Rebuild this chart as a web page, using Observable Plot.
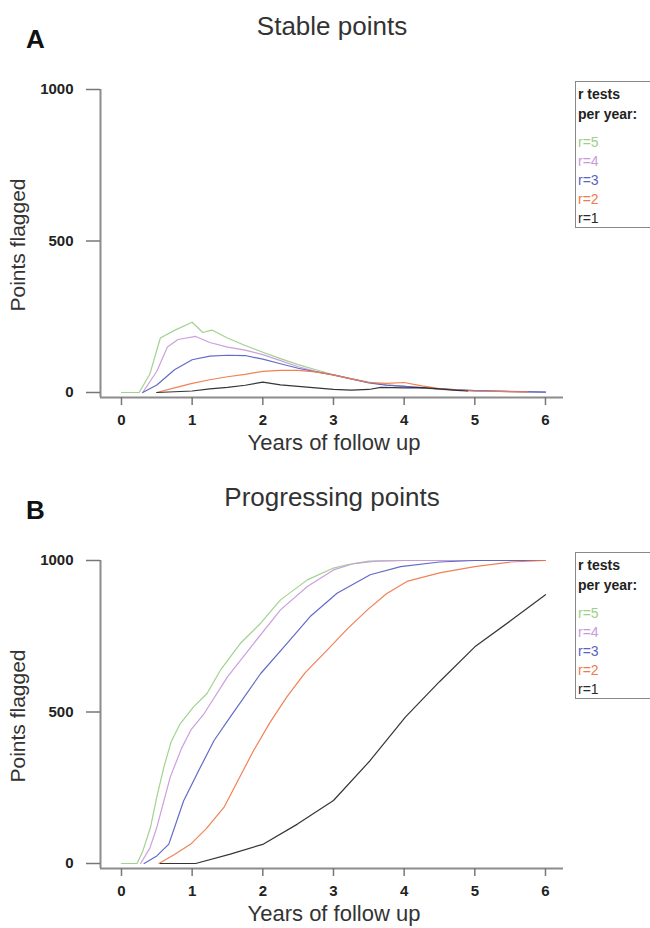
<!DOCTYPE html>
<html>
<head>
<meta charset="utf-8">
<script src="https://cdn.jsdelivr.net/npm/d3@7"></script>
<script src="https://cdn.jsdelivr.net/npm/@observablehq/plot@0.6"></script>
<style>
  html, body { margin: 0; padding: 0; background: #fff; }
  #wrap { position: relative; width: 650px; height: 928px; overflow: hidden; background: #fff;
          font-family: "Liberation Sans", Arial, sans-serif; color: #222; }
  .panel { position: absolute; left: 0; width: 650px; }
  .panel svg { position: absolute; left: 0; top: 0; }
  .abs { position: absolute; line-height: 1; white-space: nowrap; }
  .letter { font-weight: bold; font-size: 26px; color: #111; }
  .title { font-size: 26px; color: #333; text-align: center; width: 300px; }
  .ylab { font-size: 21px; color: #333; transform: translate(-50%, -50%) rotate(-90deg); }
  .xlab { font-size: 22px; color: #333; text-align: center; width: 300px; }
  .legend { position: absolute; border: 1px solid #888; background: #fff; }
  .leg { position: absolute; left: 2px; font-size: 14px; line-height: 1; white-space: nowrap; }
  .leg.head { font-weight: bold; color: #222; }
</style>
</head>
<body>
<div id="wrap"></div>
<script>
// ---------- data ----------
const seriesNames = ["r=5", "r=4", "r=3", "r=2", "r=1"];
const seriesColors = ["#9dd088", "#c79bdb", "#5b63c2", "#f07a4c", "#2a2a2a"];
const xTicks = [0, 1, 2, 3, 4, 5, 6];
const yTicks = [0, 500, 1000];
const panelTitles = ["Stable points", "Progressing points"];
const panelLetters = ["A", "B"];
const xLabel = "Years of follow up";
const yLabel = "Points flagged";
const legendHeader = ["r tests", "per year:"];

// Panel A: stable points
const stableYears_r5 = [0, 0.25, 0.4, 0.55, 0.75, 1.0, 1.15, 1.28, 1.5, 1.75, 2.0, 2.25, 2.5, 2.75, 3.0, 3.25, 3.5, 3.75, 4.0, 4.25, 4.5, 4.75, 5.0, 5.5, 6.0];
const stableVals_r5  = [0, 0, 60, 180, 205, 232, 198, 206, 180, 155, 133, 112, 92, 75, 58, 46, 34, 25, 20, 15, 10, 7, 5, 3, 1];
const stableYears_r4 = [0.3, 0.5, 0.65, 0.8, 1.05, 1.25, 1.5, 1.75, 2.0, 2.25, 2.5, 2.75, 3.0, 3.25, 3.5, 3.75, 4.0, 4.5, 5.0, 5.5, 6.0];
const stableVals_r4  = [0, 70, 150, 175, 185, 165, 150, 140, 125, 105, 85, 70, 57, 45, 33, 25, 20, 12, 6, 3, 1];
const stableYears_r3 = [0.3, 0.5, 0.75, 1.0, 1.25, 1.5, 1.75, 2.0, 2.25, 2.5, 2.75, 3.0, 3.25, 3.5, 3.75, 4.0, 4.5, 5.0, 6.0];
const stableVals_r3  = [0, 25, 75, 108, 120, 123, 122, 110, 95, 80, 68, 58, 45, 32, 24, 20, 12, 6, 1];
const stableYears_r2 = [0.5, 0.75, 1.0, 1.25, 1.5, 1.75, 2.0, 2.25, 2.5, 2.75, 3.0, 3.25, 3.5, 3.75, 4.0, 4.25, 4.5, 4.75, 5.0, 5.5, 5.75];
const stableVals_r2  = [0, 15, 30, 42, 52, 60, 70, 73, 73, 68, 58, 45, 33, 30, 33, 22, 13, 8, 5, 3, 2];
const stableYears_r1 = [0.5, 1.0, 1.25, 1.5, 1.75, 2.0, 2.25, 2.5, 2.75, 3.0, 3.25, 3.5, 3.67, 4.0, 4.25, 4.5, 4.75, 4.9];
const stableVals_r1  = [0, 5, 12, 17, 24, 34, 25, 20, 15, 10, 8, 10, 17, 15, 16, 12, 7, 5];

// Panel B: progressing points
const progYears_r5 = [0, 0.22, 0.3, 0.41, 0.5, 0.6, 0.7, 0.83, 1.02, 1.21, 1.4, 1.68, 1.97, 2.25, 2.63, 3.0, 3.19, 3.5, 4.0, 5.0, 6.0];
const progVals_r5  = [0, 0, 40, 119, 220, 318, 400, 461, 517, 561, 638, 726, 793, 870, 936, 975, 986, 998, 1000, 1000, 1000];
const progYears_r4 = [0.27, 0.4, 0.5, 0.69, 0.85, 0.98, 1.17, 1.5, 1.87, 2.25, 2.63, 3.0, 3.29, 3.6, 4.0, 5.0, 6.0];
const progVals_r4  = [0, 50, 119, 285, 380, 440, 495, 616, 726, 837, 914, 969, 990, 998, 1000, 1000, 1000];
const progYears_r3 = [0.32, 0.5, 0.67, 0.88, 1.1, 1.31, 1.54, 1.97, 2.34, 2.67, 3.05, 3.52, 3.95, 4.5, 5.0, 6.0];
const progVals_r3  = [0, 25, 64, 207, 310, 406, 484, 627, 726, 815, 892, 953, 980, 995, 1000, 1000];
const progYears_r2 = [0.53, 0.75, 0.98, 1.2, 1.45, 1.65, 1.87, 2.1, 2.34, 2.6, 2.91, 3.2, 3.48, 3.75, 4.04, 4.5, 5.0, 5.5, 6.0];
const progVals_r2  = [0, 30, 64, 115, 185, 275, 373, 465, 550, 630, 704, 775, 837, 890, 931, 959, 980, 995, 1000];
const progYears_r1 = [0.55, 1.05, 1.54, 2.01, 2.49, 3.0, 3.52, 4.02, 4.5, 5.0, 5.5, 6.0];
const progVals_r1  = [0, 0, 31, 64, 130, 208, 340, 484, 600, 715, 800, 887];

// ---------- build tables ----------
function table(yearsList, valsList) {
  const rows = [];
  seriesNames.forEach((s, i) => {
    yearsList[i].forEach((yr, j) => rows.push({series: s, year: yr, value: valsList[i][j]}));
  });
  return rows;
}
const stableData = table(
  [stableYears_r5, stableYears_r4, stableYears_r3, stableYears_r2, stableYears_r1],
  [stableVals_r5, stableVals_r4, stableVals_r3, stableVals_r2, stableVals_r1]);
const progData = table(
  [progYears_r5, progYears_r4, progYears_r3, progYears_r2, progYears_r1],
  [progVals_r5, progVals_r4, progVals_r3, progVals_r2, progVals_r1]);

// ---------- draw ----------
const wrap = document.getElementById("wrap");
const panelTops = [0, 471];
const panelHeights = [471, 457];
const plain = d => String(d);

function makePanel(k, data) {
  const div = document.createElement("div");
  div.className = "panel";
  div.style.top = panelTops[k] + "px";
  div.style.height = panelHeights[k] + "px";
  wrap.appendChild(div);

  const chart = Plot.plot({
    width: 650,
    height: panelHeights[k],
    marginLeft: 100,
    marginRight: 87,
    marginTop: 89,
    marginBottom: panelHeights[k] - 397,
    x: {domain: [-0.297, 6.255]},
    y: {domain: [-16.5, 1000]},
    color: {domain: seriesNames, range: seriesColors},
    style: {fontFamily: "'Liberation Sans', Arial, sans-serif", fontSize: "15px", color: "#222",
            background: "transparent", overflow: "visible"},
    marks: [
      Plot.ruleX([-0.297], {stroke: "#8c8c8c", strokeWidth: 2}),
      Plot.ruleY([-16.5], {stroke: "#8c8c8c", strokeWidth: 2}),
      Plot.axisX({ticks: xTicks, tickFormat: plain, tickSize: 8, tickPadding: 9, stroke: "#777",
                  strokeWidth: 1.5, fill: "#222", fontWeight: "bold", label: null}),
      Plot.axisY({ticks: yTicks, tickFormat: plain, tickSize: 14, tickPadding: 13, stroke: "#777",
                  strokeWidth: 1.5, fill: "#222", fontWeight: "bold", label: null}),
      Plot.line(data, {x: "year", y: "value", z: "series", stroke: "series", strokeWidth: 1.2,
                       strokeOpacity: 0.95, curve: "linear"})
    ]
  });
  div.appendChild(chart);

  const add = (cls, text, css) => {
    const e = document.createElement("div");
    e.className = "abs " + cls;
    e.textContent = text;
    Object.assign(e.style, css);
    div.appendChild(e);
    return e;
  };
  add("letter", panelLetters[k], {left: "26px", top: "26px"});
  add("title", panelTitles[k], {left: "182px", top: "13px"});
  add("ylab", yLabel, {left: "17px", top: "245px"});
  add("xlab", xLabel, {left: "184px", top: "432px"});

  const leg = document.createElement("div");
  leg.className = "legend";
  Object.assign(leg.style, {left: "575px", top: "81px", width: "110px", height: "145px"});
  div.appendChild(leg);
  const items = [
    {t: legendHeader[0], cls: "head", top: 5, color: "#222"},
    {t: legendHeader[1], cls: "head", top: 25, color: "#222"}
  ];
  seriesNames.forEach((s, i) => items.push({t: s, cls: "", top: 53 + i * 19, color: seriesColors[i]}));
  items.forEach(it => {
    const e = document.createElement("div");
    e.className = "leg " + it.cls;
    e.textContent = it.t;
    e.style.top = it.top + "px";
    e.style.color = it.color;
    leg.appendChild(e);
  });
}

makePanel(0, stableData);
makePanel(1, progData);
</script>
</body>
</html>
